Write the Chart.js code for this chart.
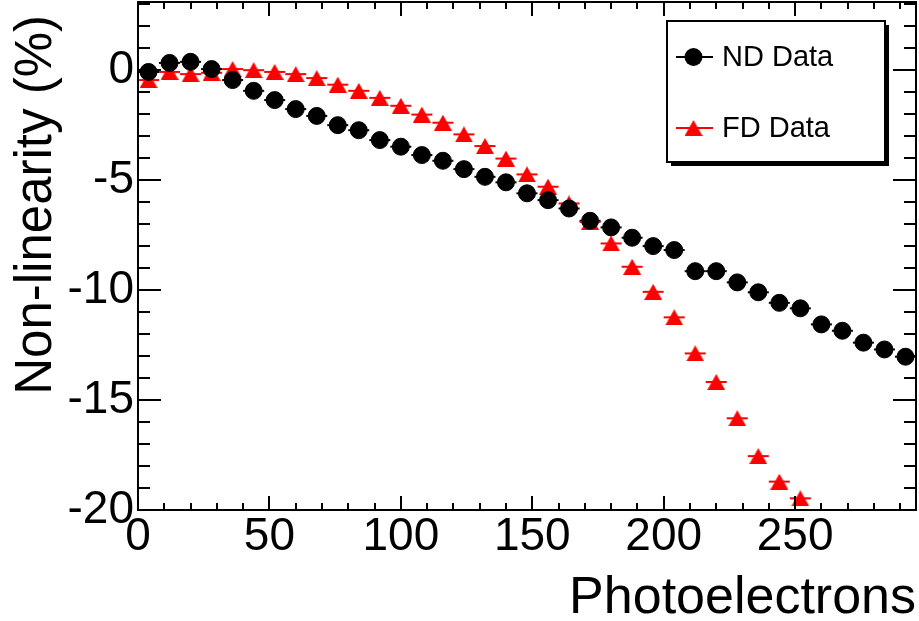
<!DOCTYPE html>
<html><head><meta charset="utf-8">
<script src="https://cdn.jsdelivr.net/npm/chart.js@4/dist/chart.umd.min.js"></script>
<style>html,body{margin:0;padding:0;background:#fff;overflow:hidden}#wrap{width:919px;height:621px}</style>
</head><body><div id="wrap"><canvas id="c" width="919" height="621"></canvas></div>
<script>
// ---- data ----
const ndPhotoelectrons = [4,12,20,28,36,44,52,60,68,76,84,92,100,108,116,124,132,140,148,156,164,172,180,188,196,204,212,220,228,236,244,252,260,268,276,284,292];
const ndNonLinearity = [-0.08,0.33,0.38,0.05,-0.45,-0.94,-1.36,-1.77,-2.08,-2.5,-2.73,-3.18,-3.48,-3.86,-4.12,-4.5,-4.85,-5.1,-5.6,-5.91,-6.29,-6.85,-7.15,-7.62,-8.0,-8.18,-9.14,-9.14,-9.65,-10.1,-10.58,-10.83,-11.56,-11.85,-12.39,-12.7,-13.03];
const fdPhotoelectrons = [4,12,20,28,36,44,52,60,68,76,84,92,100,108,116,124,132,140,148,156,164,172,180,188,196,204,212,220,228,236,244,252];
const fdNonLinearity = [-0.45,-0.08,-0.18,-0.12,0.05,0.0,-0.08,-0.18,-0.36,-0.66,-0.94,-1.26,-1.62,-2.02,-2.39,-2.92,-3.45,-4.02,-4.74,-5.3,-6.06,-6.9,-7.88,-8.94,-10.08,-11.24,-12.88,-14.18,-15.83,-17.55,-18.71,-19.47];
const seriesLabels = ['ND Data', 'FD Data'];
const binHalfWidth = 4;
const xRange = [0, 296];
const yRange = [-20, 3.1];
const xMajorStep = 50, xMinorStep = 10;
const yMajorStep = 5, yMinorStep = 1;
const xTitle = 'Photoelectrons';
const yTitle = 'Non-linearity (%)';

const FONT = "'Liberation Sans', Arial, Helvetica, sans-serif";
Chart.defaults.color = '#000';

function makeTriangle(color, w, h) {
  const c = document.createElement('canvas');
  c.width = w; c.height = h;
  const g = c.getContext('2d');
  g.fillStyle = color;
  g.beginPath(); g.moveTo(w / 2, 0); g.lineTo(w, h); g.lineTo(0, h); g.closePath(); g.fill();
  return c;
}
const redTriangle = makeTriangle('#ff0000', 18, 16);

const toPoints = (xs, ys) => xs.map((x, i) => ({x, y: ys[i]}));

const errorBars = {
  id: 'errorBars',
  beforeDatasetsDraw(chart) {
    const {ctx, chartArea: a, scales: {x, y}} = chart;
    ctx.save();
    ctx.beginPath(); ctx.rect(a.left, a.top, a.right - a.left, a.bottom - a.top); ctx.clip();
    chart.data.datasets.forEach(ds => {
      ctx.strokeStyle = ds.borderColor; ctx.lineWidth = 2;
      ds.data.forEach(p => {
        const py = y.getPixelForValue(p.y);
        ctx.beginPath();
        ctx.moveTo(x.getPixelForValue(p.x - binHalfWidth), py);
        ctx.lineTo(x.getPixelForValue(p.x + binHalfWidth), py);
        ctx.stroke();
      });
    });
    ctx.restore();
  }
};

const frameTicks = {
  id: 'frameTicks',
  afterDatasetsDraw(chart) {
    const {ctx, chartArea: {left, right, top, bottom}, scales: {x, y}} = chart;
    ctx.save();
    ctx.strokeStyle = '#000'; ctx.lineWidth = 2;
    ctx.beginPath();
    const nx = Math.round((xRange[1] - xRange[0]) / xMinorStep);
    for (let i = 0; i <= nx; i++) {
      const v = xRange[0] + i * xMinorStep;
      const px = Math.round(x.getPixelForValue(v));
      const len = (v % xMajorStep === 0) ? 14 : 7;
      ctx.moveTo(px, bottom); ctx.lineTo(px, bottom - len);
      ctx.moveTo(px, top); ctx.lineTo(px, top + len);
    }
    for (let v = Math.ceil(yRange[0]); v <= yRange[1]; v += yMinorStep) {
      const py = Math.round(y.getPixelForValue(v));
      const len = (v % yMajorStep === 0) ? 23 : 12;
      ctx.moveTo(left, py); ctx.lineTo(left + len, py);
      ctx.moveTo(right, py); ctx.lineTo(right - len, py);
    }
    ctx.stroke();
    ctx.strokeRect(left, top, right - left, bottom - top);
    ctx.restore();
  }
};

const yAxisTitle = {
  id: 'yAxisTitle',
  afterDraw(chart) {
    const ctx = chart.ctx;
    ctx.save();
    ctx.translate(51, 15);
    ctx.rotate(-Math.PI / 2);
    ctx.fillStyle = '#000';
    ctx.font = '51px ' + FONT;
    ctx.textAlign = 'right'; ctx.textBaseline = 'alphabetic';
    ctx.fillText(yTitle, 0, 0);
    ctx.restore();
  }
};

const boxLegend = {
  id: 'boxLegend',
  afterDraw(chart) {
    const {ctx, chartArea: a} = chart;
    const bx = a.right - 249, by = a.top + 19, bw = 218, bh = 141;
    ctx.save();
    ctx.fillStyle = '#000'; ctx.fillRect(bx + 4, by + 4, bw, bh);
    ctx.fillStyle = '#fff'; ctx.fillRect(bx, by, bw, bh);
    ctx.strokeStyle = '#000'; ctx.lineWidth = 2; ctx.strokeRect(bx, by, bw, bh);
    const rows = [by + 36, by + 107];
    chart.data.datasets.forEach((ds, i) => {
      const ry = rows[i];
      ctx.strokeStyle = ds.borderColor; ctx.lineWidth = 2;
      ctx.beginPath(); ctx.moveTo(bx + 9, ry); ctx.lineTo(bx + 46, ry); ctx.stroke();
      const cx = bx + 26.5;
      if (i === 0) {
        ctx.fillStyle = ds.backgroundColor;
        ctx.beginPath(); ctx.arc(cx, ry, 9, 0, Math.PI * 2); ctx.fill();
      } else {
        ctx.drawImage(redTriangle, cx - redTriangle.width / 2, ry - redTriangle.height / 2);
      }
      ctx.fillStyle = '#000';
      ctx.font = '29px ' + FONT;
      ctx.textBaseline = 'middle'; ctx.textAlign = 'left';
      ctx.fillText(ds.label, bx + 55, ry + 1);
    });
    ctx.restore();
  }
};

new Chart(document.getElementById('c'), {
  type: 'scatter',
  data: {
    datasets: [
      { label: seriesLabels[0], data: toPoints(ndPhotoelectrons, ndNonLinearity),
        backgroundColor: '#000', borderColor: '#000', pointStyle: 'circle',
        pointRadius: 8.5, pointBorderWidth: 1, pointHoverRadius: 8.5 },
      { label: seriesLabels[1], data: toPoints(fdPhotoelectrons, fdNonLinearity),
        backgroundColor: '#ff0000', borderColor: '#ff0000', pointStyle: redTriangle,
        pointRadius: 9, pointHoverRadius: 9 }
    ]
  },
  options: {
    responsive: false, animation: false, devicePixelRatio: 1,
    layout: { autoPadding: false, padding: { left: 0, right: 3, top: 2, bottom: 0 } },
    plugins: { legend: { display: false }, tooltip: { enabled: false } },
    scales: {
      x: {
        type: 'linear', min: xRange[0], max: xRange[1],
        grid: { display: false, drawTicks: false }, border: { display: false },
        ticks: { stepSize: xMajorStep, includeBounds: false, maxRotation: 0, autoSkip: false, padding: 0,
                 font: { family: FONT, size: 46 }, color: '#000' },
        title: { display: true, text: xTitle, align: 'end', color: '#000',
                 font: { family: FONT, size: 52, lineHeight: 0.84 }, padding: { top: 0, bottom: 1 } },
        afterFit(s) { s.height = 111; s.paddingLeft = 0; s.paddingRight = 0; }
      },
      y: {
        type: 'linear', min: yRange[0], max: yRange[1],
        grid: { display: false, drawTicks: false }, border: { display: false },
        ticks: { stepSize: yMajorStep, includeBounds: false, autoSkip: false, padding: 4,
                 font: { family: FONT, size: 46 }, color: '#000' },
        title: { display: false, text: yTitle },
        afterFit(s) { s.width = 138; s.paddingTop = 0; s.paddingBottom = 0; }
      }
    }
  },
  plugins: [errorBars, frameTicks, yAxisTitle, boxLegend]
});
</script>
</body></html>
